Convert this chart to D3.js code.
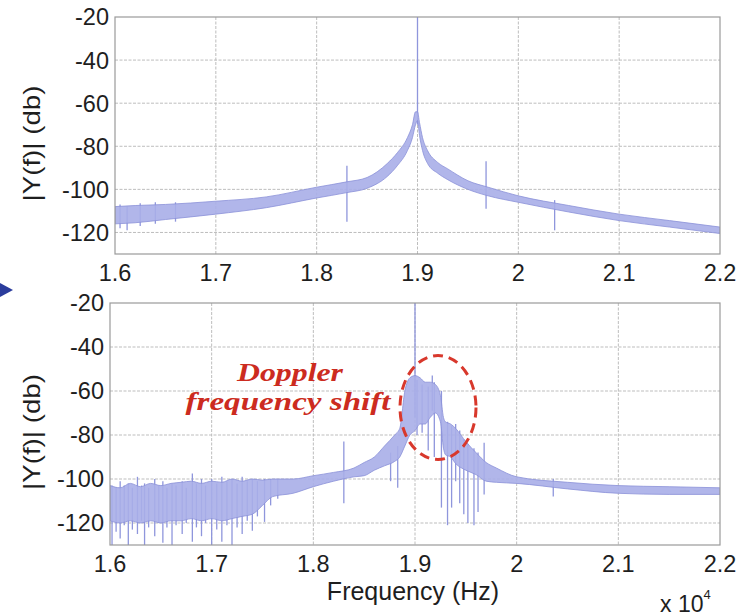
<!DOCTYPE html>
<html>
<head>
<meta charset="utf-8">
<script src="https://cdn.jsdelivr.net/npm/d3@7"></script>
<style>
  body { margin: 0; background: #fff; }
  svg { display: block; font-family: "Liberation Sans", Arial, sans-serif; }
</style>
</head>
<body>
<div id="chart"></div>
<script>
// frequency in units of 10^4 Hz, magnitude in dB
var xTicks = [1.6, 1.7, 1.8, 1.9, 2.0, 2.1, 2.2];
var xTickLabels = ["1.6", "1.7", "1.8", "1.9", "2", "2.1", "2.2"];
var yTicks = [-20, -40, -60, -80, -100, -120];

// top panel: envelope of the noisy spectrum
var topFreq  = [1.6, 1.62, 1.65, 1.7, 1.75, 1.8, 1.83, 1.85, 1.87, 1.88, 1.89, 1.895, 1.898, 1.9, 1.902, 1.905, 1.91, 1.92, 1.93, 1.95, 1.97, 2.0, 2.05, 2.1, 2.15, 2.2];
var topUpper = [-108, -107.5, -107, -105.5, -103.5, -99, -96.5, -94.5, -88, -83, -76, -70, -64, -64, -69, -76, -82, -87.5, -90.5, -96, -99, -103, -107.5, -111.5, -114.5, -117.5];
var topLower = [-116, -115.5, -114, -111.5, -108.5, -104, -101.5, -99.5, -94, -89, -82, -76, -70, -68, -75, -82, -88, -92.5, -95.5, -100, -103, -106, -110.5, -114.5, -117.5, -120.5];
// top panel: spikes
var topSpikeFreq = [1.605, 1.612, 1.625, 1.64, 1.66, 1.83, 1.9, 1.968, 2.036];
var topSpikeHigh = [-107, -108, -106.5, -106, -106, -89, -20, -87, -105];
var topSpikeLow  = [-118, -119, -117, -116, -115, -115, -70, -109, -119];

// bottom panel: envelope
var botFreq  = [1.6, 1.61, 1.62, 1.63, 1.64, 1.65, 1.66, 1.67, 1.68, 1.69, 1.7, 1.71, 1.72, 1.73, 1.74, 1.75, 1.76, 1.78, 1.8, 1.82, 1.84, 1.85, 1.86, 1.87, 1.88, 1.885, 1.89, 1.895, 1.9, 1.905, 1.91, 1.915, 1.92, 1.925, 1.928, 1.93, 1.935, 1.94, 1.95, 1.96, 1.97, 1.98, 2.0, 2.05, 2.1, 2.15, 2.2];
var botUpper = [-103, -104, -102, -103.5, -102, -103, -102, -101.5, -101, -102, -101, -101.5, -100, -101, -100, -100.5, -100, -100, -98.5, -97, -95, -92.5, -90, -85, -80, -77, -60, -54, -53, -54, -56, -56, -57, -62, -72, -74, -75, -77, -83, -88, -92.5, -95, -99, -101.5, -103, -103.5, -104];
var botLower = [-119, -120, -119, -120, -119, -120, -119, -119, -118, -119, -118, -119, -118, -117, -116, -112, -108, -106.5, -103.5, -101, -99, -98.5, -96, -94, -92, -90, -85, -80, -78, -75, -75, -72, -70, -74, -86, -89, -90, -93, -96, -98, -101, -101.5, -102, -104.5, -106.5, -107, -107];
// bottom panel: spikes
var botSpikeFreq = [1.602, 1.606, 1.61, 1.614, 1.618, 1.622, 1.627, 1.631, 1.634, 1.638, 1.644, 1.648, 1.652, 1.656, 1.661, 1.665, 1.671, 1.675, 1.681, 1.685, 1.69, 1.694, 1.7, 1.705, 1.71, 1.715, 1.72, 1.725, 1.73, 1.735, 1.74, 1.745, 1.752, 1.758, 1.765,
                    1.83, 1.876, 1.883, 1.9, 1.902, 1.907, 1.913, 1.917, 1.919, 1.926, 1.932, 1.936, 1.94, 1.944, 1.948, 1.952, 1.958, 1.962, 1.968, 2.036];
var botSpikeHigh = [-103, -104, -101, -103, -102, -104, -99, -103, -102, -104, -100, -103, -101, -104, -102, -103, -101, -104, -97.5, -102, -100, -103, -100, -102, -99, -101, -100, -102, -99, -101, -100, -101, -100, -100, -100,
                    -83, -88, -85, -20, -55, -57, -58, -53, -56, -60, -74, -76, -75, -78, -82, -84, -86, -88, -83.5, -100];
var botSpikeLow  = [-130, -124, -127, -121, -130, -123, -125, -119, -130, -122, -126, -120, -129, -122, -130, -121, -125, -120, -128.5, -122, -126, -120, -130, -123, -128.5, -121, -130, -122, -125, -119, -123.5, -117, -119.5, -112, -109,
                    -111, -101, -104, -72, -80, -79, -87, -69, -90, -113, -121, -113, -101, -111, -116, -120, -121, -115, -107, -108];

var W = 744, H = 616;
var svg = d3.select("#chart").append("svg")
  .attr("width", W)
  .attr("height", H);

function drawPanel(id, box, freq, upper, lower, sFreq, sHigh, sLow) {
  var x = d3.scaleLinear().domain([1.6, 2.2]).range([box.left, box.right]);
  var y = d3.scaleLinear().domain([-130, -20]).range([box.bottom, box.top]);
  var g = svg.append("g");

  svg.append("clipPath").attr("id", id)
    .append("rect")
    .attr("x", box.left).attr("y", box.top)
    .attr("width", box.right - box.left).attr("height", box.bottom - box.top);

  // grid
  g.selectAll(".vg").data(xTicks.slice(1, -1)).enter().append("line")
    .attr("x1", function (d) { return x(d); }).attr("x2", function (d) { return x(d); })
    .attr("y1", box.top).attr("y2", box.bottom)
    .style("stroke", "#bdbdbd").style("stroke-width", 1).style("stroke-dasharray", "3,1.5");
  g.selectAll(".hg").data(yTicks.slice(1)).enter().append("line")
    .attr("x1", box.left).attr("x2", box.right)
    .attr("y1", function (d) { return y(d); }).attr("y2", function (d) { return y(d); })
    .style("stroke", "#bdbdbd").style("stroke-width", 1).style("stroke-dasharray", "3,1.5");

  var plot = g.append("g").attr("clip-path", "url(#" + id + ")");

  plot.selectAll(".spike").data(sFreq).enter().append("line")
    .attr("x1", function (d) { return x(d); }).attr("x2", function (d) { return x(d); })
    .attr("y1", function (d, i) { return y(sHigh[i]); })
    .attr("y2", function (d, i) { return y(sLow[i]); })
    .style("stroke", "#8f96dc")
    .style("stroke-width", 1.3);

  var band = freq.map(function (f, i) { return { f: f, hi: upper[i], lo: lower[i] }; });
  var area = d3.area()
    .curve(d3.curveMonotoneX)
    .x(function (d) { return x(d.f); })
    .y0(function (d) { return y(d.lo); })
    .y1(function (d) { return y(d.hi); });
  plot.append("path").datum(band)
    .attr("d", area)
    .style("fill", "#a9aee8")
    .style("fill-opacity", 0.9)
    .style("stroke", "#8a90d8")
    .style("stroke-width", 0.8);

  // box
  g.append("rect")
    .attr("x", box.left).attr("y", box.top)
    .attr("width", box.right - box.left).attr("height", box.bottom - box.top)
    .style("fill", "none").style("stroke", "#9a9a9a").style("stroke-width", 1.2);

  // tick labels
  g.selectAll(".yl").data(yTicks).enter().append("text")
    .text(function (d) { return d; })
    .attr("x", box.left - 6)
    .attr("y", function (d) { return y(d); })
    .attr("dy", "0.36em")
    .style("text-anchor", "end")
    .style("font-size", "23.5px")
    .style("fill", "#1e1e1e");
  g.selectAll(".xl").data(xTicks).enter().append("text")
    .text(function (d, i) { return xTickLabels[i]; })
    .attr("x", function (d) { return x(d); })
    .attr("y", box.bottom + 27)
    .style("text-anchor", "middle")
    .style("font-size", "23.5px")
    .style("fill", "#1e1e1e");

  g.append("text")
    .text("|Y(f)| (db)")
    .attr("transform", "translate(40," + ((box.top + box.bottom) / 2 + 8) + ") rotate(-90)")
    .style("text-anchor", "middle")
    .style("font-size", "24px")
    .attr("textLength", 116)
    .attr("lengthAdjust", "spacingAndGlyphs")
    .style("fill", "#1e1e1e");

  return { x: x, y: y };
}

drawPanel("clipTop", { left: 115, right: 720, top: 17, bottom: 254 },
  topFreq, topUpper, topLower, topSpikeFreq, topSpikeHigh, topSpikeLow);
drawPanel("clipBot", { left: 110, right: 720, top: 303, bottom: 545 },
  botFreq, botUpper, botLower, botSpikeFreq, botSpikeHigh, botSpikeLow);

// x label and exponent
svg.append("text")
  .text("Frequency (Hz)")
  .attr("x", 413).attr("y", 600)
  .style("text-anchor", "middle")
  .style("font-size", "25px")
  .style("fill", "#1e1e1e");
svg.append("text")
  .attr("x", 660).attr("y", 612)
  .style("font-size", "23px")
  .style("fill", "#1e1e1e")
  .text("x 10")
  .append("tspan")
  .attr("dy", -13)
  .style("font-size", "13px")
  .text("4");

// annotation
svg.append("text")
  .text("Doppler")
  .attr("x", 290).attr("y", 381)
  .attr("textLength", 106)
  .attr("lengthAdjust", "spacingAndGlyphs")
  .style("text-anchor", "middle")
  .style("font-family", "'Liberation Serif', 'Times New Roman', serif")
  .style("font-style", "italic").style("font-weight", "bold")
  .style("font-size", "26px")
  .style("fill", "#cc2b20");
svg.append("text")
  .text("frequency shift")
  .attr("x", 288).attr("y", 410)
  .attr("textLength", 205)
  .attr("lengthAdjust", "spacingAndGlyphs")
  .style("text-anchor", "middle")
  .style("font-family", "'Liberation Serif', 'Times New Roman', serif")
  .style("font-style", "italic").style("font-weight", "bold")
  .style("font-size", "26px")
  .style("fill", "#cc2b20");
svg.append("ellipse")
  .attr("cx", 438).attr("cy", 407.5)
  .attr("rx", 38).attr("ry", 52)
  .style("fill", "none")
  .style("stroke", "#d8382c")
  .style("stroke-width", 3)
  .style("stroke-dasharray", "10,6");

// arrow on the left edge
svg.append("path")
  .attr("d", "M0,283 L13,290 L0,297 Z")
  .style("fill", "#2b3c9c");
</script>
</body>
</html>
